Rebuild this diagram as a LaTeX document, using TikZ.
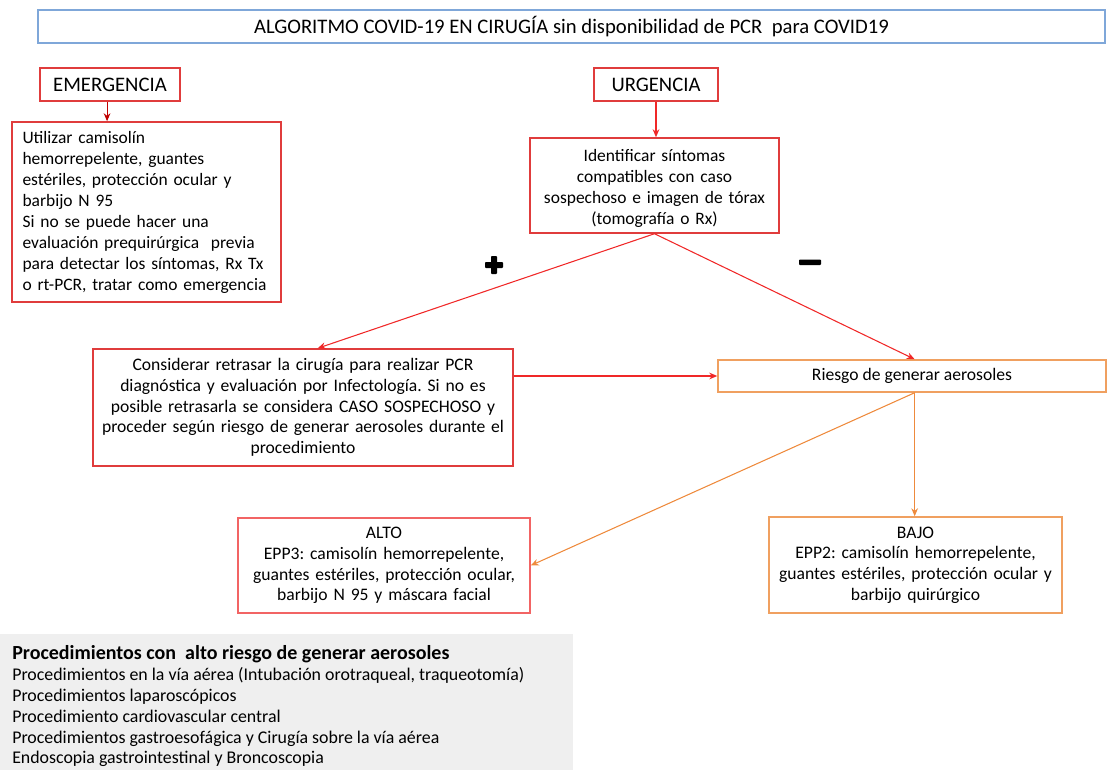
\documentclass[tikz,border=0pt]{standalone}
\usepackage{fontspec}
\setmainfont{Carlito}
\frenchspacing
\usetikzlibrary{arrows.meta,calc}
\definecolor{boxred}{HTML}{E03C3C}
\definecolor{lightred}{HTML}{F26464}
\definecolor{linered}{HTML}{F02828}
\definecolor{darkred}{HTML}{C00000}
\definecolor{orangeline}{HTML}{EE8A3C}
\definecolor{orangebox}{HTML}{F0A060}
\definecolor{titleblue}{HTML}{7FA7D9}
\definecolor{graybg}{HTML}{EFEFEF}
\tikzset{
  box/.style={draw=boxred, line width=1.1pt, inner sep=0pt, minimum width=#1},
  normtext/.style={font=\fontsize{13.1pt}{15.75pt}\selectfont},
  headtext/.style={font=\fontsize{15.5pt}{18pt}\selectfont},
  boxtext/.style={font=\fontsize{13.2pt}{15.6pt}\selectfont},
  redarrow/.style={draw=linered, line width=0.8pt, -{Stealth[length=6pt,width=5pt]}},
  orarrow/.style={draw=orangeline, line width=0.8pt, -{Stealth[length=6pt,width=5pt]}},
}
\begin{document}
\begin{tikzpicture}[x=0.75pt,y=-0.75pt]
\useasboundingbox (0,0) rectangle (1107,770);
% title
\node[draw=titleblue, line width=0.8pt, minimum width=1067*0.75pt, minimum height=33*0.75pt, headtext] (title) at (571.5,26.5) {ALGORITMO COVID-19 EN CIRUGÍA sin disponibilidad de PCR \ para COVID19};
% emergencia
\node[box=140*0.75pt, minimum height=33*0.75pt, headtext] (em) at (110,84.5) {EMERGENCIA};
\node[box=124*0.75pt, minimum height=33*0.75pt, headtext] (urg) at (656,84.5) {URGENCIA};
\node[box=269*0.75pt, minimum height=180*0.75pt, normtext, text width=248*0.75pt, align=left] (emtext) at (146.5,212) {Utilizar camisolín\\hemorrepelente, guantes\\estériles, protección ocular y\\barbijo N 95\\Si no se puede hacer una\\evaluación prequirúrgica \ previa\\para detectar los síntomas, Rx Tx\\o rt-PCR, tratar como emergencia};
\node[box=249*0.75pt, minimum height=95*0.75pt, normtext, text width=240*0.75pt, align=center] (ident) at (654.5,185.5) {\rule{0pt}{14pt}Identificar síntomas\\compatibles con caso\\sospechoso e imagen de tórax\\(tomografía o Rx)};
\node[box=420*0.75pt, minimum height=117*0.75pt, boxtext, text width=412*0.75pt, align=center] (cons) at (303,407.5) {Considerar retrasar la cirugía para realizar PCR\\diagnóstica y evaluación por Infectología. Si no es\\posible retrasarla se considera CASO SOSPECHOSO y\\proceder según riesgo de generar aerosoles durante el\\procedimiento};
\node[draw=orangebox, line width=1.1pt, inner sep=0pt, minimum width=388*0.75pt, minimum height=32*0.75pt, boxtext] (riesgo) at (912,376) {Riesgo de generar aerosoles};
\node[draw=lightred, line width=1.1pt, inner sep=0pt, minimum width=292*0.75pt, minimum height=95*0.75pt, boxtext, text width=288*0.75pt, align=center] (alto) at (384,565.5) {ALTO\\EPP3: camisolín hemorrepelente,\\guantes estériles, protección ocular,\\barbijo N 95 y máscara facial};
\node[draw=orangebox, line width=1.1pt, inner sep=0pt, minimum width=293*0.75pt, minimum height=96*0.75pt, boxtext, text width=288*0.75pt, align=center] (bajo) at (915.5,565) {BAJO\\EPP2: camisolín hemorrepelente,\\guantes estériles, protección ocular y\\barbijo quirúrgico};
% plus and minus signs
\fill[black, rounded corners=0.6pt] (485,262) rectangle (503,268);
\fill[black, rounded corners=0.6pt] (491,256) rectangle (497,274);
\fill[black, rounded corners=0.6pt] (799,259.5) rectangle (821,265);
% connectors
\draw[draw=darkred, line width=0.8pt, -{Stealth[length=6pt,width=5pt]}] ([xshift=-2.2pt]em.south) -- ([xshift=-2.2pt]em.south |- emtext.north);
\draw[redarrow] (urg.south) -- (urg.south |- ident.north);
\draw[redarrow] (ident.south) -- ([xshift=11pt]cons.north);
\draw[redarrow] (ident.south) -- ([xshift=2pt]riesgo.north);
\draw[redarrow] (cons.east |- riesgo.west) -- (riesgo.west);
\draw[orarrow] ([xshift=2pt]riesgo.south) -- (alto.east);
\draw[orarrow] ([xshift=2pt]riesgo.south) -- ([xshift=2pt]riesgo.south |- bajo.north);
% gray box
\fill[graybg] (0,634) rectangle (573,770);
\node[anchor=north west, inner sep=0pt, font=\fontsize{13.4pt}{15.6pt}\selectfont, align=left] (list) at (12,645.5) {{\bfseries\fontsize{15pt}{17.5pt}\selectfont Procedimientos con \ alto riesgo de generar aerosoles}\\Procedimientos en la vía aérea (Intubación orotraqueal, traqueotomía)\\Procedimientos laparoscópicos\\Procedimiento cardiovascular central\\Procedimientos gastroesofágica y Cirugía sobre la vía aérea\\Endoscopia gastrointestinal y Broncoscopia};
\end{tikzpicture}
\end{document}
